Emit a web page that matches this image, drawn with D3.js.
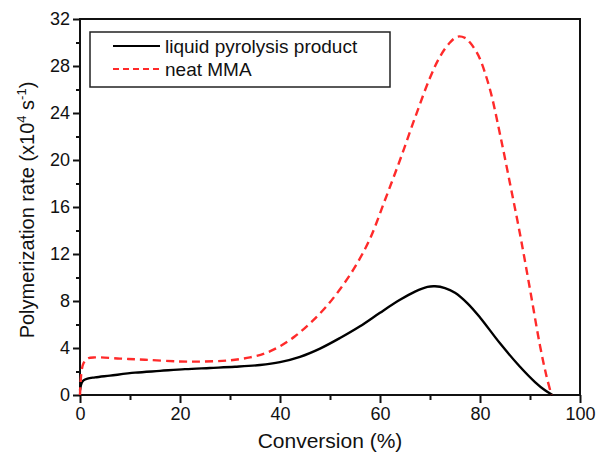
<!DOCTYPE html>
<html><head><meta charset="utf-8">
<script src="https://cdn.jsdelivr.net/npm/d3@7"></script>
<style>body{margin:0;background:#fff}svg{display:block}text{font-family:"Liberation Sans",Arial,Helvetica,sans-serif;fill:#111}</style>
</head><body>
<script>
const blackX = [0, 0.3, 0.7, 1.5, 3, 6, 11, 16, 21, 26, 31, 36, 40, 44, 48, 52, 56, 60, 64, 67, 69.5, 71, 73, 75, 77.5, 80, 84, 88, 91, 93, 94.5];
const blackY = [0.4, 1.0, 1.25, 1.4, 1.5, 1.65, 1.9, 2.05, 2.2, 2.3, 2.4, 2.55, 2.8, 3.25, 3.95, 4.85, 5.85, 7.0, 8.1, 8.8, 9.2, 9.25, 9.1, 8.7, 7.8, 6.6, 4.4, 2.4, 1.1, 0.4, 0];
const redX = [0, 0.3, 0.7, 1.5, 3, 8, 13, 20, 25, 30, 34, 37, 40, 43, 46, 49, 52, 55, 58, 61, 64, 67, 70, 72, 74, 75.5, 77, 78, 79, 80, 82, 84, 86, 88, 90, 92, 93.3, 94.3];
const redY = [0, 2.0, 2.7, 3.1, 3.2, 3.1, 3.0, 2.85, 2.85, 2.95, 3.2, 3.55, 4.15, 5.0, 6.1, 7.4, 9.0, 10.9, 13.3, 16.6, 20.0, 23.6, 27.0, 28.8, 30.0, 30.5, 30.4, 30.0, 29.4, 28.6, 26.0, 22.2, 18.0, 13.7, 9.0, 4.2, 1.6, 0];
const xTicks = [0, 20, 40, 60, 80, 100];
const yTicks = [0, 4, 8, 12, 16, 20, 24, 28, 32];
const seriesNames = ["liquid pyrolysis product", "neat MMA"];

const W = 597, H = 460;
const m = {l: 80, r: 17, t: 19, b: 65};
const svg = d3.select("body").append("svg").attr("width", W).attr("height", H);
const x = d3.scaleLinear().domain([0, 100]).range([m.l, W - m.r]);
const y = d3.scaleLinear().domain([0, 32]).range([H - m.b, m.t]);

svg.append("rect").attr("x", x(0)).attr("y", y(32)).attr("width", x(100) - x(0)).attr("height", y(0) - y(32))
  .attr("fill", "none").attr("stroke", "#111").attr("stroke-width", 2);

const xa = svg.append("g").attr("transform", `translate(0,${y(0)})`)
  .call(d3.axisBottom(x).tickValues(xTicks).tickSize(8).tickPadding(4).tickFormat(d3.format("d")));
const xm = svg.append("g").attr("transform", `translate(0,${y(0)})`)
  .call(d3.axisBottom(x).tickValues([10, 30, 50, 70, 90]).tickSize(5).tickFormat(""));
const ya = svg.append("g").attr("transform", `translate(${x(0)},0)`)
  .call(d3.axisLeft(y).tickValues(yTicks).tickSize(7).tickPadding(3).tickFormat(d3.format("d")));
const ym = svg.append("g").attr("transform", `translate(${x(0)},0)`)
  .call(d3.axisLeft(y).tickValues([2, 6, 10, 14, 18, 22, 26, 30]).tickSize(4).tickFormat(""));
[xa, xm, ya, ym].forEach(g => {
  g.select(".domain").remove();
  g.selectAll("line").attr("stroke", "#111").attr("stroke-width", 2);
  g.selectAll("text").attr("font-size", 18).attr("fill", "#111").style("font-family", '"Liberation Sans",Arial,sans-serif');
});

const line = d3.line().x(d => x(d[0])).y(d => y(d[1])).curve(d3.curveCatmullRom.alpha(0.5));
svg.append("path").datum(blackX.map((v, i) => [v, blackY[i]])).attr("d", line)
  .attr("fill", "none").attr("stroke", "#000").attr("stroke-width", 2.4);
svg.append("path").datum(redX.map((v, i) => [v, redY[i]])).attr("d", line)
  .attr("fill", "none").attr("stroke", "#ff2a2a").attr("stroke-width", 2.4).attr("stroke-dasharray", "8,5");

svg.append("rect").attr("x", 90).attr("y", 32).attr("width", 300).attr("height", 55)
  .attr("fill", "#fff").attr("stroke", "#222").attr("stroke-width", 1.5);
const leg = [{c: "#000", d: null}, {c: "#ff2a2a", d: "6,4"}];
seriesNames.forEach((n, i) => {
  const yy = 46 + i * 23;
  const l = svg.append("line").attr("x1", 113).attr("x2", 160).attr("y1", yy).attr("y2", yy)
    .attr("stroke", leg[i].c).attr("stroke-width", 2.2);
  if (leg[i].d) l.attr("stroke-dasharray", leg[i].d);
  svg.append("text").attr("x", 165).attr("y", yy + 6.5).attr("font-size", 19).text(n);
});

svg.append("text").attr("x", x(50)).attr("y", 448).attr("text-anchor", "middle").attr("font-size", 21).text("Conversion (%)");
const yt = svg.append("text").attr("transform", `translate(34,210) rotate(-90)`).attr("text-anchor", "middle").attr("font-size", 20);
yt.append("tspan").text("Polymerization rate (x10");
yt.append("tspan").attr("font-size", 13).attr("dy", -8).text("4");
yt.append("tspan").attr("dy", 8).text(" s");
yt.append("tspan").attr("font-size", 13).attr("dy", -8).text("-1");
yt.append("tspan").attr("dy", 8).text(")");
</script>
</body></html>
